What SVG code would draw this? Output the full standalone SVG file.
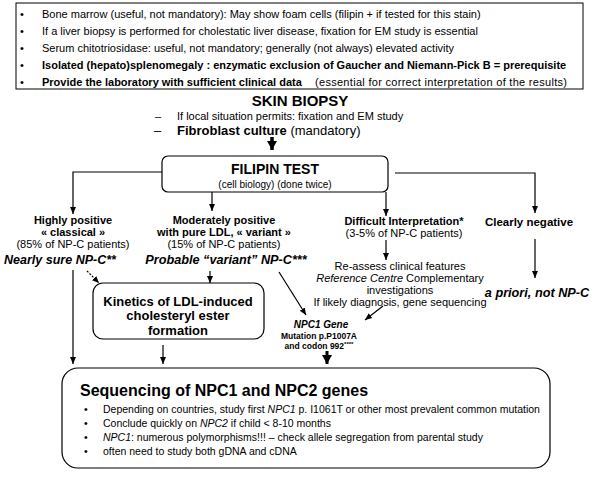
<svg xmlns="http://www.w3.org/2000/svg" width="600" height="482" viewBox="0 0 600 482">
<defs>
<style>
text{font-family:"Liberation Sans",Arial,sans-serif;fill:#000}
.b{font-weight:bold}
.i{font-style:italic}
.c{text-anchor:middle}
.ln{stroke:#000;stroke-width:1.2;fill:none}
.box{fill:#fff;stroke:#000;stroke-width:1.2}
</style>
<marker id="ah" markerWidth="8" markerHeight="8" refX="7" refY="4" orient="auto" markerUnits="userSpaceOnUse">
<path d="M0,1 L7,4 L0,7 Z" fill="#000"/>
</marker>
<marker id="ahb" markerWidth="10" markerHeight="10" refX="9" refY="5" orient="auto" markerUnits="userSpaceOnUse">
<path d="M0,0 L9,5 L0,10 Z" fill="#000"/>
</marker>
</defs>

<g id="prereq">
<rect x="16" y="3" width="567" height="86" fill="#fff" stroke="#000" stroke-width="1"/>
<g font-size="11">
<text x="20" y="18">•</text><text x="42" y="18">Bone marrow  (useful, not mandatory): May show foam cells  (filipin + if tested for this stain)</text>
<text x="20" y="35">•</text><text x="42" y="35">If a liver biopsy is performed for cholestatic liver disease, fixation for EM study is essential</text>
<text x="20" y="52">•</text><text x="42" y="52">Serum chitotriosidase: useful, not mandatory;  generally (not always) elevated activity</text>
<text x="20" y="69">•</text><text x="42" y="69" class="b">Isolated (hepato)splenomegaly : enzymatic exclusion of Gaucher and Niemann-Pick B =  prerequisite</text>
<text x="20" y="86">•</text><text x="42" y="86" class="b">Provide the laboratory with sufficient clinical data</text>
<text x="315" y="86" textLength="252" lengthAdjust="spacing">(essential for correct interpretation of the results)</text>
</g>
</g>

<g id="skin">
<text x="300" y="106" class="b c" font-size="15">SKIN BIOPSY</text>
<text x="155" y="120" font-size="11">–</text>
<text x="177" y="120" font-size="11">If local situation permits: fixation and EM study</text>
<text x="154" y="135" font-size="13">–</text>
<text x="177" y="135" font-size="13"><tspan class="b">Fibroblast culture</tspan> (mandatory)</text>
</g>

<g id="filipin">
<rect x="162" y="156" width="226" height="36" rx="6" class="box"/>
<text x="275" y="174" class="b c" font-size="14">FILIPIN TEST</text>
<text x="275" y="188" class="c" font-size="10">(cell biology) (done twice)</text>
</g>

<g id="highly">
<text x="73" y="224" class="b c" font-size="11">Highly positive</text>
<text x="73" y="236" class="b c" font-size="11">« classical »</text>
<text x="73" y="248" class="c" font-size="11">(85% of NP-C patients)</text>
<text x="60" y="264" class="b i c" font-size="12.5">Nearly sure NP-C**</text>
</g>

<g id="moderately">
<text x="224" y="224" class="b c" font-size="11">Moderately positive</text>
<text x="224" y="236" class="b c" font-size="11">with pure LDL, « variant »</text>
<text x="224" y="248" class="c" font-size="11">(15% of NP-C patients)</text>
<text x="226" y="264" class="b i c" font-size="12.7">Probable “variant” NP-C***</text>
</g>

<g id="difficult">
<text x="404" y="225" class="b c" font-size="11">Difficult Interpretation*</text>
<text x="404" y="237" class="c" font-size="11">(3-5% of NP-C patients)</text>
<text x="400" y="270" class="c" font-size="11">Re-assess clinical features</text>
<text x="400" y="282" class="c" font-size="11"><tspan class="i">Reference Centre</tspan> Complementary</text>
<text x="400" y="294" class="c" font-size="11">investigations</text>
<text x="400" y="306" class="c" font-size="11">If likely diagnosis, gene sequencing</text>
</g>

<g id="negative">
<text x="529" y="226" class="b c" font-size="11.5">Clearly negative</text>
<text x="537" y="297" class="b i c" font-size="12.7">a priori, not NP-C</text>
</g>

<g id="kinetics">
<rect x="93" y="283" width="171" height="56" rx="10" class="box"/>
<text x="178" y="306" class="b c" font-size="13">Kinetics of LDL-induced</text>
<text x="178" y="320" class="b c" font-size="13">cholesteryl ester</text>
<text x="178" y="335" class="b c" font-size="13">formation</text>
</g>

<g id="npc1gene">
<text x="321" y="328" class="b i c" font-size="10">NPC1 Gene</text>
<text x="319" y="339" class="b c" font-size="8.5">Mutation p.P1007A</text>
<text x="319" y="349" class="b c" font-size="8.5">and codon 992<tspan font-size="6" dy="-3">****</tspan></text>
</g>

<g id="sequencing">
<rect x="62" y="368" width="488" height="100" rx="16" class="box"/>
<text x="80" y="396" class="b" font-size="16">Sequencing of NPC1 and NPC2 genes</text>
<g font-size="10.5">
<text x="84" y="413">•</text><text x="103" y="413">Depending on countries, study first <tspan class="i">NPC1</tspan> p. I1061T or other most prevalent common mutation</text>
<text x="84" y="427">•</text><text x="103" y="427">Conclude quickly on <tspan class="i">NPC2</tspan> if child &lt; 8-10 months</text>
<text x="84" y="441">•</text><text x="103" y="441"> <tspan class="i">NPC1</tspan>: numerous polymorphisms!!! – check allele segregation from parental study</text>
<text x="84" y="455">•</text><text x="103" y="455">often need to study both gDNA and cDNA</text>
</g>
</g>

<g id="connectors">
<line x1="272" y1="137" x2="272" y2="150" stroke="#000" stroke-width="3.5" marker-end="url(#ahb)"/>
<polyline points="162,172 73,172 73,214" class="ln" marker-end="url(#ah)"/>
<polyline points="395,173 535,173 535,213" class="ln" marker-end="url(#ah)"/>
<line x1="212" y1="192" x2="212" y2="211" class="ln" marker-end="url(#ah)"/>
<line x1="386" y1="192" x2="386" y2="216" class="ln" marker-end="url(#ah)"/>
<line x1="386" y1="240" x2="386" y2="260" class="ln" marker-end="url(#ah)"/>
<line x1="535" y1="239" x2="535" y2="278" class="ln" marker-end="url(#ah)"/>
<line x1="87" y1="271" x2="99" y2="283" class="ln" stroke-dasharray="2,1.5" marker-end="url(#ah)"/>
<line x1="73" y1="270" x2="73" y2="364" class="ln" marker-end="url(#ah)"/>
<line x1="210" y1="271" x2="210" y2="283" class="ln" marker-end="url(#ah)"/>
<line x1="163" y1="345" x2="163" y2="364" class="ln" marker-end="url(#ah)"/>
<line x1="279" y1="272" x2="306" y2="315" class="ln" marker-end="url(#ah)"/>
<line x1="383" y1="306" x2="365" y2="320" class="ln" marker-end="url(#ah)"/>
<line x1="327" y1="351" x2="327" y2="364" stroke="#000" stroke-width="3" marker-end="url(#ahb)"/>
</g>
</svg>
